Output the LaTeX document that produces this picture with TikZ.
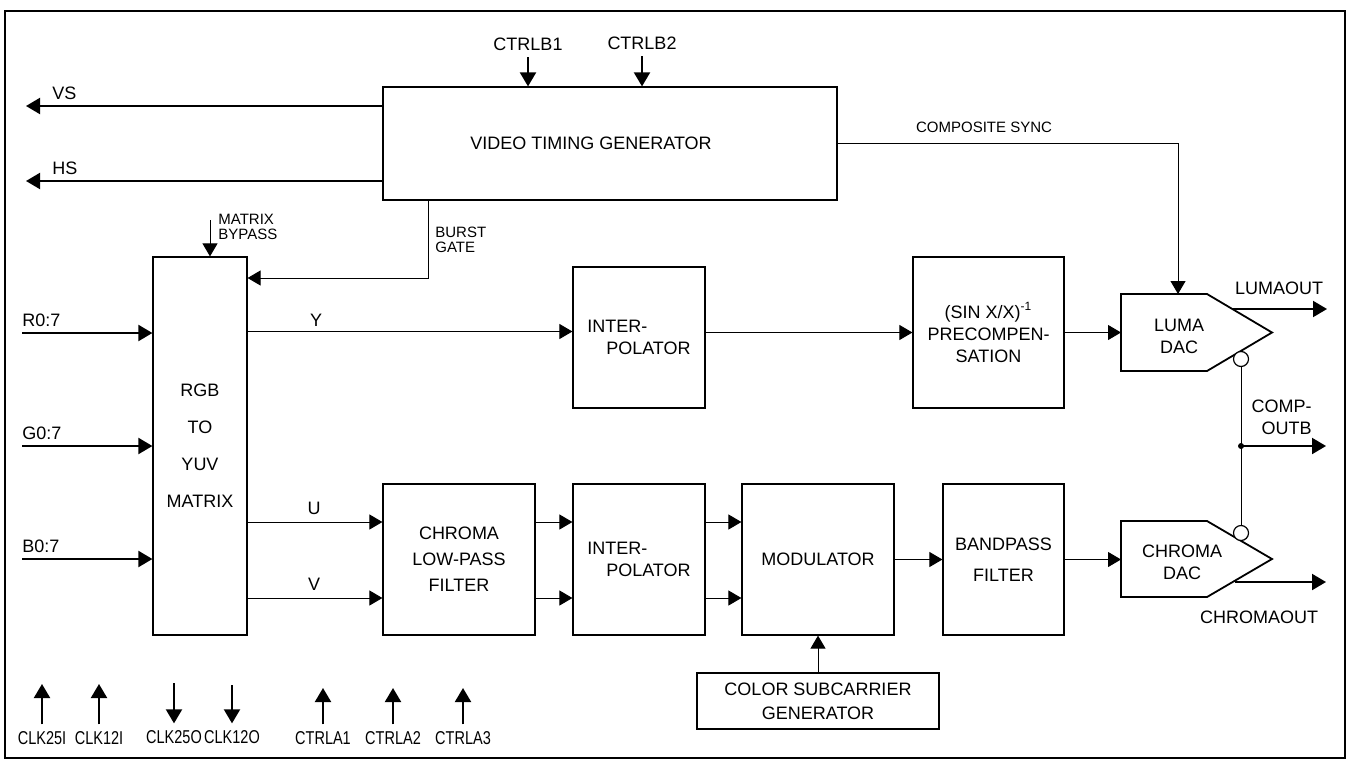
\documentclass[tikz,border=0pt]{standalone}
\usepackage{fontspec}
\setmainfont{Liberation Sans}
\newfontfamily\narrowfont[FakeStretch=0.78]{Liberation Sans}
\usetikzlibrary{arrows.meta, positioning, calc}

\tikzset{
	blk/.style={draw, line width=0.6pt, inner sep=0pt, align=center},
	dac/.style={draw, line width=0.9pt},
	sig/.style={-{Triangle[length=6.5pt, width=7.5pt]}, line width=0.5pt},
	bus/.style={-{Triangle[length=7pt, width=8pt]}, line width=1pt},
	small/.style={font=\fontsize{7.5}{7.5}\selectfont, inner sep=0pt, align=left},
	pinlbl/.style={font=\fontsize{9.3}{11}\narrowfont},
	bubble/.style={circle, draw, line width=0.6pt, fill=white, inner sep=0pt, minimum size=7.5pt}
}

\begin{document}
\begin{tikzpicture}[x=0.5pt, y=-0.5pt, font=\fontsize{9}{11}\selectfont]
		\useasboundingbox (0,0) rectangle (1347,760);
		\draw [line width=1pt] (5,11) rectangle (1345,758);

		\node [blk, minimum width=227pt, minimum height=56.5pt] (vtg) at (610,143.5) {VIDEO TIMING GENERATOR\hspace*{19pt}};
		\node [blk, minimum width=47pt, minimum height=189pt] (mtx) at (200,446) {RGB\\[7.5pt] TO\\[7.5pt] YUV\\[7.5pt] MATRIX};
		\node [blk, minimum width=66pt, minimum height=70.5pt, align=left] (ip1) at (639,337.5) {INTER-\\\hspace*{1.05em}POLATOR};
		\node [blk, minimum width=75.5pt, minimum height=75.5pt] (sinc) at (988.5,332.5) {(SIN X/X)\textsuperscript{-1}\\PRECOMPEN-\\SATION};
		\node [blk, minimum width=76pt, minimum height=75.5pt] (lpf) at (459,559.5) {CHROMA\\[2pt] LOW-PASS\\[2pt] FILTER};
		\node [blk, minimum width=66pt, minimum height=75.5pt, align=left] (ip2) at (639,559.5) {INTER-\\\hspace*{1.05em}POLATOR};
		\node [blk, minimum width=76pt, minimum height=75.5pt] (mod) at (818,559.5) {MODULATOR};
		\node [blk, minimum width=60.5pt, minimum height=75.5pt] (bpf) at (1003.5,559.5) {BANDPASS\\[4.5pt] FILTER};
		\node [blk, minimum width=121pt, minimum height=28pt] (csg) at (818,701) {COLOR SUBCARRIER\\[1pt] GENERATOR};

		\coordinate (lumatop) at (1178,294);
		\coordinate (lumain) at (1121,332.5);
		\coordinate (chromain) at (1121,559.5);
		\coordinate (lumaout) at (1232,309);
		\coordinate (chromaout) at (1235,582);

		\draw [dac] (1121,294) -- (1207,294) -- (1272,332.5) -- (1207,371) -- (1121,371) -- cycle;
		\draw [dac] (1121,521) -- (1207,521) -- (1272,559) -- (1207,597) -- (1121,597) -- cycle;
		\node [align=center] (luma) at (1179,336.5) {LUMA\\DAC};
		\node [align=center] (chroma) at (1182,562) {CHROMA\\DAC};

		\node [bubble] (lbub) at (1241,359) {};
		\node [bubble] (cbub) at (1241,533) {};
		\node [circle, fill, inner sep=0pt, minimum size=3pt] (jn) at (1241,446) {};
		\draw [line width=0.5pt] (lbub) -- (cbub);

		\draw [bus] (lumaout) -- (1327,309);
		\draw [bus] (jn.center) -- (1326,446);
		\draw [bus] (chromaout) -- (1326,582);
		\node at (1279,288) {LUMAOUT};
		\node [align=right, anchor=east, inner sep=0pt] at (1312,417) {COMP-\\OUTB};
		\node at (1259,617) {CHROMAOUT};

		\draw [bus] (vtg.west |- 0,106) -- (26,106);
		\draw [bus] (vtg.west |- 0,181) -- (26,181);
		\node [anchor=west, inner sep=0pt] at (52,93) {VS};
		\node [anchor=west, inner sep=0pt] at (52,168) {HS};

		\foreach \n/\x/\y in {1/528/44, 2/642/43} {
			\node (ctrlb\n) at (\x,\y) {CTRLB\n};
			\draw [bus] (ctrlb\n.south) -- (ctrlb\n.south |- vtg.north);
		}

		\draw [sig] (vtg.east) -| (lumatop);
		\node [small] at (984,127) {COMPOSITE SYNC};

		\draw [sig] (210,220) -- (mtx.north -| 210,0);
		\node [small, anchor=west] at (218,226.5) {MATRIX\\BYPASS};
		\draw [sig] (vtg.south -| 428,0) |- (mtx.east |- 0,278);
		\node [small, anchor=west] at (435,240) {BURST\\GATE};

		\foreach \n/\y in {R/333, G/446, B/559} {
			\node [anchor=west, inner sep=0pt] (in\n) at (22,\y-13) {\n0:7};
			\draw [bus] (in\n.west |- 0,\y) -- (mtx.west |- 0,\y);
		}

		\draw [sig] (mtx.east |- 0,331.5) -- (ip1.west |- 0,331.5);
		\draw [sig] (ip1.east |- 0,332.5) -- (sinc.west |- 0,332.5);
		\draw [sig] (sinc.east) -- (lumain);
		\node at (316,320) {Y};

		\foreach \y in {522, 598} {
			\draw [sig] (mtx.east |- 0,\y) -- (lpf.west |- 0,\y);
			\draw [sig] (lpf.east |- 0,\y) -- (ip2.west |- 0,\y);
			\draw [sig] (ip2.east |- 0,\y) -- (mod.west |- 0,\y);
		}
		\node at (314,508) {U};
		\node at (314,584) {V};

		\draw [sig] (mod.east) -- (bpf.west);
		\draw [sig] (bpf.east) -- (chromain);
		\draw [sig] (csg.north) -- (mod.south);

		\foreach \n/\x/\t in {CLK25I/42/684, CLK12I/99/684, CTRLA1/323/688, CTRLA2/393/688, CTRLA3/463/688} {
			\node [pinlbl] (\n) at (\x,738) {\n};
			\draw [bus] (\n.north) -- (\x,\t);
		}
		\foreach \n/\x/\t in {CLK25O/174/683, CLK12O/232/685} {
			\node [pinlbl] (\n) at (\x,737) {\n};
			\draw [bus] (\x,\t) -- (\n.north);
		}
	\end{tikzpicture}
\end{document}
